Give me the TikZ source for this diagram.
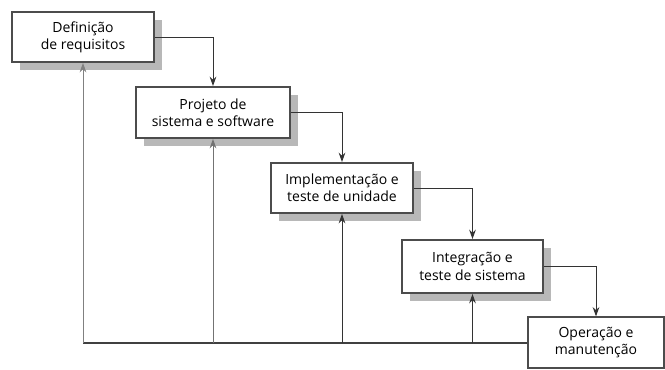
\documentclass[tikz,border=0pt]{standalone}
\usepackage{fontspec}
\setmainfont{Open Sans}
\usetikzlibrary{arrows.meta,shadows}

\tikzset{every picture/.style={line width=0.75pt}}
\tikzset{
  stagebox/.style={draw=black!70, line width=1.5pt, fill=white, align=center,
    inner sep=0pt, font=\fontsize{10.5}{13}\selectfont,
    general shadow={fill=black!28, shadow xshift=6pt, shadow yshift=-6pt}},
  endbox/.style={draw=black!70, line width=0.9pt, fill=white, align=center,
    inner sep=0pt, font=\fontsize{10.5}{13}\selectfont},
  flow/.style={draw=black!80, -{Stealth[length=7pt,width=5pt]}},
  back/.style={draw=black!80, -{Stealth[length=7pt,width=5pt]}}
}

\begin{document}
\begin{tikzpicture}[x=0.75pt,y=0.75pt,yscale=-1,xscale=1]

\useasboundingbox (0,0) rectangle (665,369);

\draw (83,37) node [stagebox, minimum width=106.5pt, minimum height=37.5pt] (req) {Definição\\de requisitos};
\draw (213,112.5) node [stagebox, minimum width=115.5pt, minimum height=38.25pt] (proj) {Projeto de\\sistema e software};
\draw (342,188) node [stagebox, minimum width=106.5pt, minimum height=37.5pt] (impl) {Implementação e\\teste de unidade};
\draw (472.5,266.5) node [stagebox, minimum width=105.75pt, minimum height=39.75pt] (integ) {Integração e\\teste de sistema};
\draw (596,342.5) node [endbox, minimum width=102pt, minimum height=38.25pt] (oper) {Operação e\\manutenção};

\coordinate (fb) at (83,343);

\draw [flow] (req.east) -| (proj.north);
\draw [flow] (proj.east) -| (impl.north);
\draw [flow] (impl.east) -| (integ.north);
\draw [flow] (integ.east) -| (oper.north);

\draw [black!75, line width=1.5pt] (oper.west |- fb) -- (fb);
\draw [back, draw=black!50] (fb) -- (req.south);
\draw [back, draw=black!55] (proj |- fb) -- (proj.south);
\draw [back] (impl |- fb) -- (impl.south);
\draw [back] (integ |- fb) -- (integ.south);

\end{tikzpicture}
\end{document}
